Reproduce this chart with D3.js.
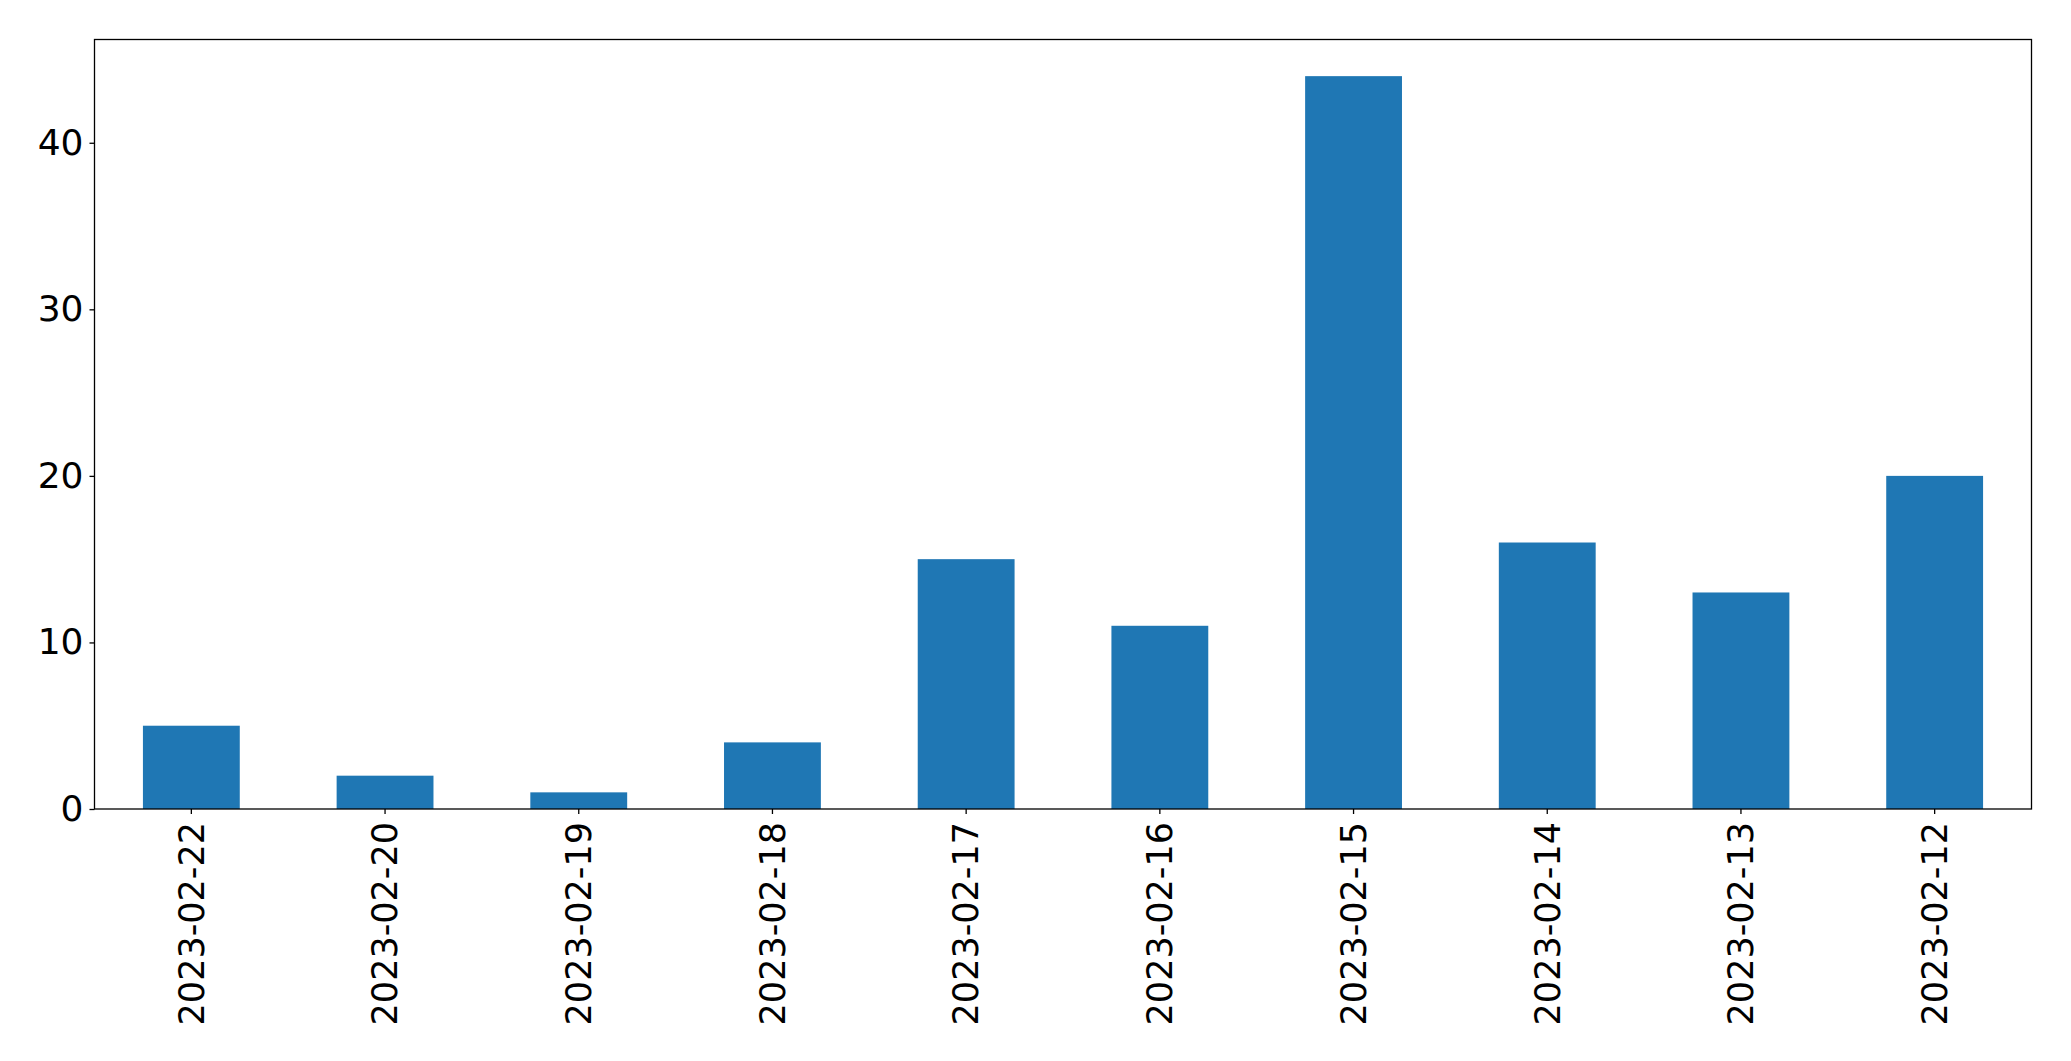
<!DOCTYPE html>
<html><head><meta charset="utf-8">
<script src="https://cdn.jsdelivr.net/npm/d3@7"></script>
<style>body{margin:0;background:#fff;} svg{display:block;}</style>
</head><body>
<svg id="chart" width="2071" height="1061"></svg>
<script>
const categories = ["2023-02-22","2023-02-20","2023-02-19","2023-02-18","2023-02-17","2023-02-16","2023-02-15","2023-02-14","2023-02-13","2023-02-12"];
const values = [5, 2, 1, 4, 15, 11, 44, 16, 13, 20];
const yTicks = [0, 10, 20, 30, 40];

const svg = d3.select("#chart");
const m = {left: 94.5, right: 2031.5, top: 39.5, bottom: 809};
const x = d3.scaleBand().domain(categories).range([m.left, m.right]).paddingInner(0.5).paddingOuter(0.25);
const yMax = d3.max(values) * 1.05;
const y = d3.scaleLinear().domain([0, yMax]).range([m.bottom, m.top]);

svg.append("g").selectAll("rect").data(values).join("rect")
  .attr("x", (d, i) => x(categories[i]))
  .attr("width", x.bandwidth())
  .attr("y", d => y(d))
  .attr("height", d => y(0) - y(d))
  .attr("fill", "#1f77b4");

const font = "DejaVu Sans, sans-serif";
const yAxis = svg.append("g").attr("transform", `translate(${m.left},0)`)
  .call(d3.axisLeft(y).tickValues(yTicks).tickSize(5).tickPadding(6).tickFormat(d3.format("d")));
yAxis.select(".domain").remove();
yAxis.selectAll("text").style("font-family", font).style("font-size", "36px").attr("fill", "#000");
yAxis.selectAll("line").attr("stroke", "#000").attr("stroke-width", 1.3);

const xAxis = svg.append("g").attr("transform", `translate(0,${m.bottom})`)
  .call(d3.axisBottom(x).tickSize(5).tickPadding(8));
xAxis.select(".domain").remove();
xAxis.selectAll("line").attr("stroke", "#000").attr("stroke-width", 1.3);
xAxis.selectAll("text")
  .style("font-family", font).style("font-size", "35px").attr("fill", "#000")
  .attr("transform", "rotate(-90)")
  .attr("text-anchor", "end")
  .attr("dy", "0.35em")
  .attr("x", -13).attr("y", 0);

svg.append("rect").attr("x", m.left).attr("y", m.top)
  .attr("width", m.right - m.left).attr("height", m.bottom - m.top)
  .attr("fill", "none").attr("stroke", "#000").attr("stroke-width", 1.3);
</script>
</body></html>
